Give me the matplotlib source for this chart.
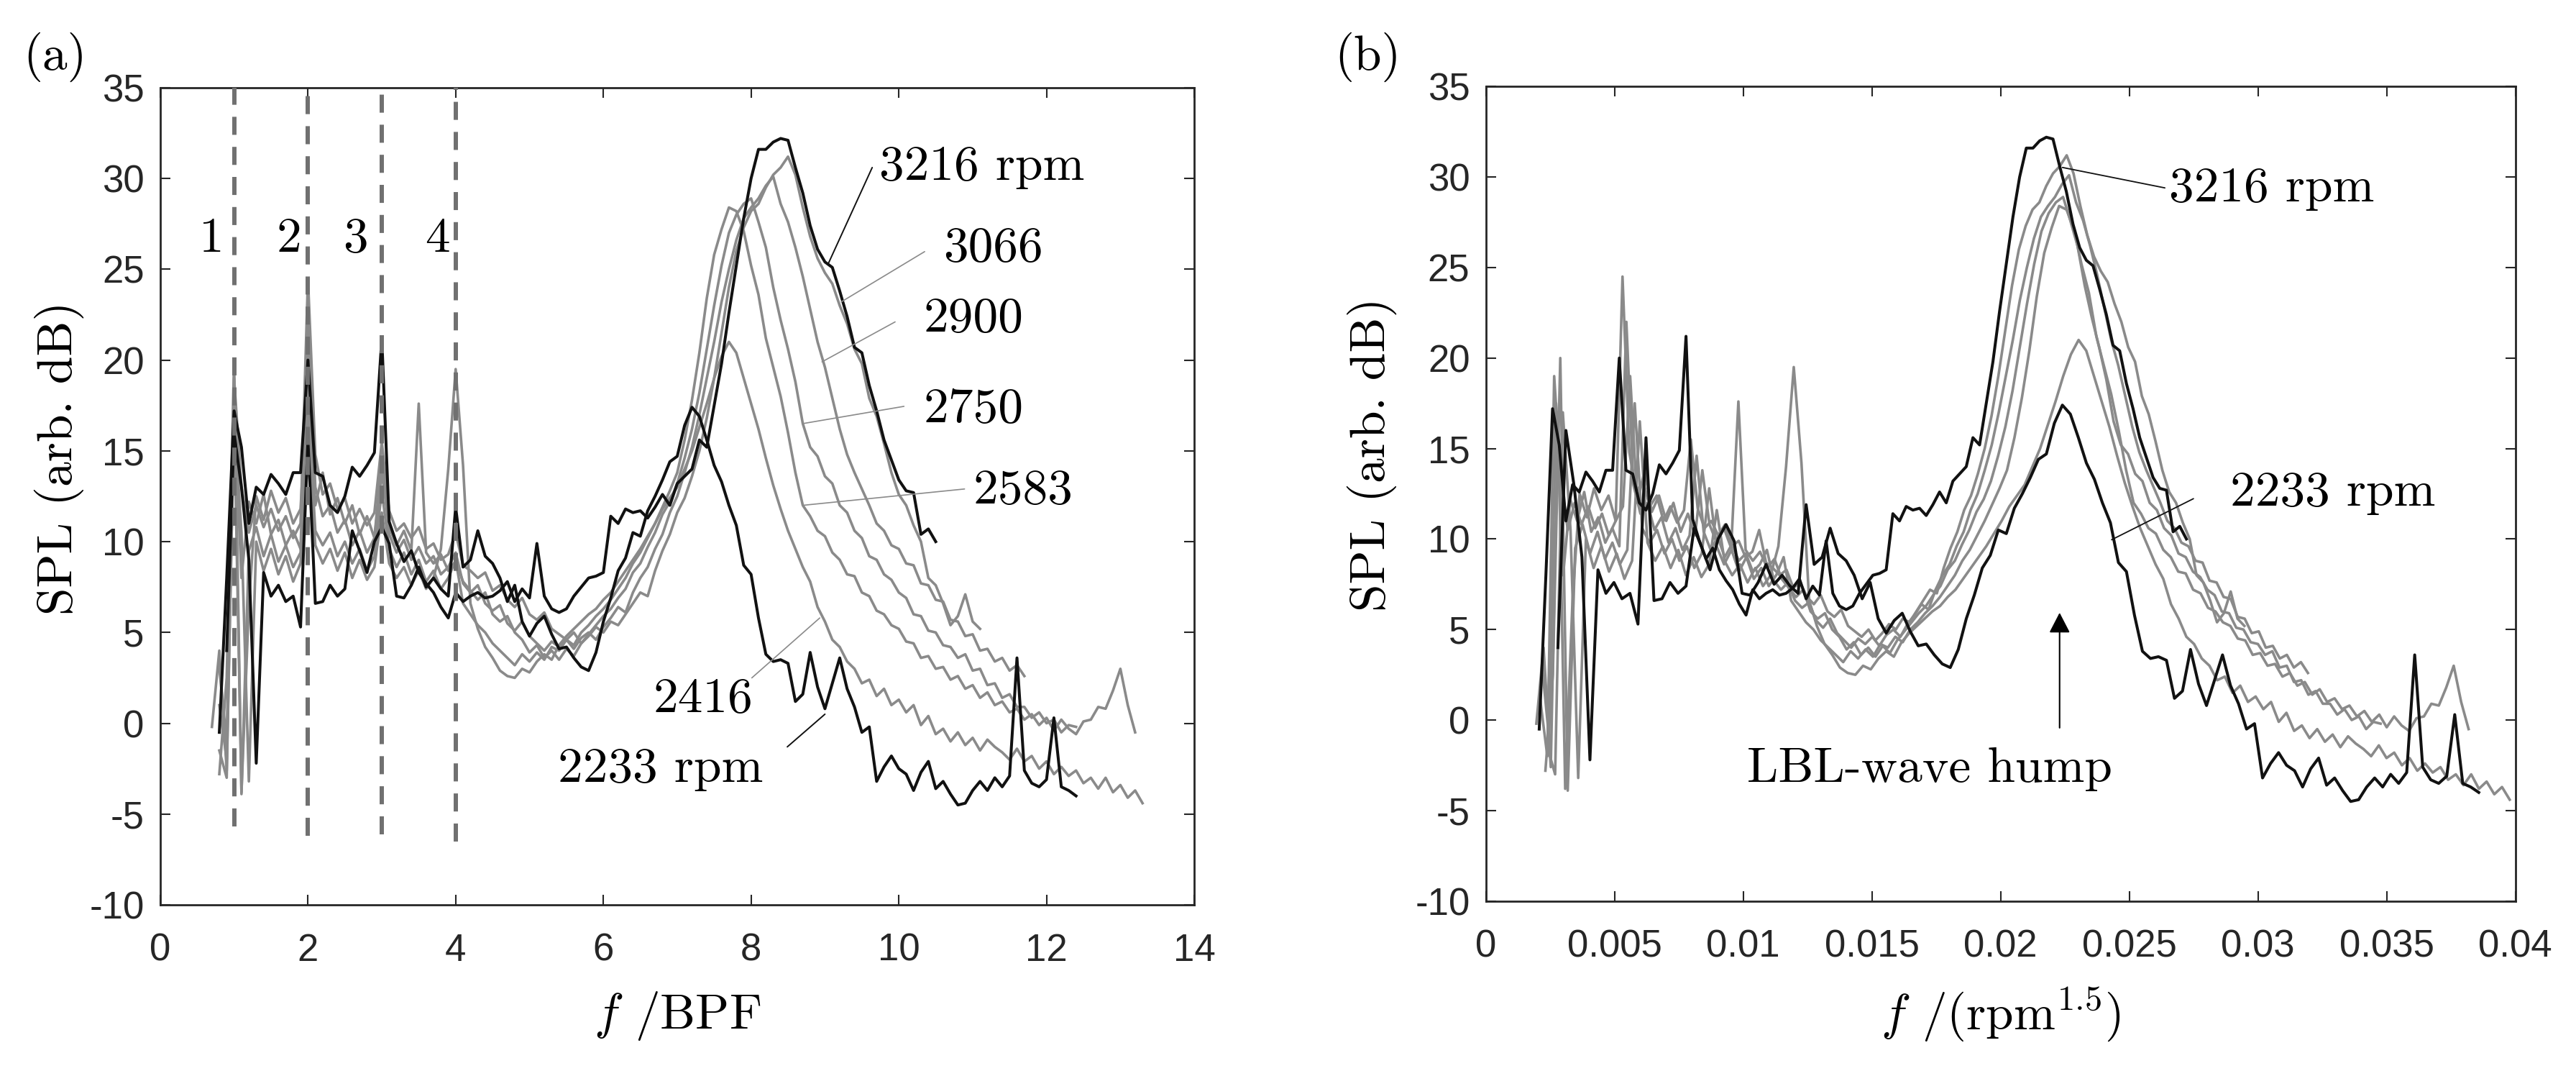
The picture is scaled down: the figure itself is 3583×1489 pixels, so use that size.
import numpy as np
import matplotlib
matplotlib.use("Agg")
import matplotlib.pyplot as plt

plt.rcParams['font.family'] = 'Liberation Sans'
plt.rcParams['mathtext.fontset'] = 'cm'
plt.rcParams['axes.unicode_minus'] = False

# rotor speeds, spectra; each spectrum sits on bins 0.1 BPF apart
rpm = [3216, 3066, 2900, 2750, 2583, 2416, 2233]
first_bin = [0.8, 0.8, 0.8, 0.7, 0.8, 0.8, 0.9]

spl_3216 = [-0.5, 8.0, 17.2, 15.2, 11.0, 13.0, 12.6, 13.7, 13.2, 12.6,
            13.8, 13.8, 20.0, 13.8, 13.6, 12.0, 11.6, 12.5, 14.1, 13.6,
            14.2, 14.9, 21.2, 11.1, 9.9, 8.9, 9.5, 8.3, 7.7, 7.2,
            6.4, 5.8, 7.2, 6.7, 7.0, 7.2, 6.9, 7.0, 7.3, 7.8,
            6.7, 7.4, 6.9, 9.9, 7.0, 6.3, 6.1, 6.3, 7.0, 7.5,
            8.0, 8.1, 8.3, 11.4, 11.0, 11.8, 11.6, 11.7, 11.3, 11.9,
            12.6, 12.0, 13.2, 13.6, 14.0, 15.6, 15.2, 17.5, 19.8, 22.6,
            25.2, 27.8, 30.0, 31.6, 31.6, 32.0, 32.2, 32.1, 30.6, 29.2,
            27.4, 26.1, 25.4, 25.1, 23.8, 22.4, 20.7, 20.4, 18.6, 17.2,
            15.6, 14.5, 13.4, 12.8, 12.7, 10.4, 10.7, 10.0]

spl_3066 = [1.0, -2.0, 19.0, 13.0, 10.5, 12.0, 10.8, 11.8, 10.6, 11.4,
            10.2, 11.0, 24.5, 14.8, 12.6, 13.2, 11.8, 12.4, 11.0, 11.8,
            10.9, 11.6, 15.5, 11.7, 10.6, 11.0, 10.2, 10.8, 9.6, 9.9,
            9.0, 9.3, 10.5, 8.7, 8.4, 8.0, 8.3, 7.3, 7.6, 6.8,
            6.4, 6.9, 6.0, 5.7, 6.1, 5.2, 4.9, 4.6, 5.0, 4.4,
            4.8, 5.3, 5.0, 5.6, 5.4, 6.0, 6.6, 7.2, 7.0, 8.4,
            9.5, 10.4, 11.6, 12.4, 13.6, 15.0, 16.8, 19.0, 21.5, 24.0,
            26.0, 27.3, 28.2, 28.6, 29.5, 30.2, 30.6, 31.2, 30.2, 28.4,
            26.8, 25.6, 24.8, 24.2, 23.0, 22.0, 20.6, 19.8, 17.9, 16.9,
            15.4, 13.8, 12.6, 12.0, 10.9, 10.0, 8.0, 7.6, 6.6, 5.4,
            5.9, 7.1, 5.6, 5.2]

spl_2900 = [3.0, -1.0, 17.5, 8.0, 12.2, 11.0, 12.6, 10.4, 11.2, 9.8,
            10.6, 9.6, 22.0, 13.0, 11.4, 12.0, 10.5, 11.2, 9.8, 10.6,
            9.4, 10.2, 14.6, 10.4, 9.4, 10.1, 9.0, 9.7, 8.8, 9.2,
            8.2, 8.6, 9.4, 7.7, 7.2, 7.6, 6.6, 6.2, 6.5, 5.5,
            5.1, 5.6, 4.8, 4.4, 4.0, 4.5, 4.2, 4.6, 4.1, 4.7,
            5.0, 4.6, 5.3, 5.8, 6.4, 6.1, 7.2, 8.0, 8.6, 9.6,
            10.4, 11.6, 12.5, 13.8, 15.2, 17.0, 19.0, 21.0, 23.2, 25.0,
            26.6, 27.8, 28.4, 28.9, 29.6, 30.1, 28.6, 27.6, 26.2, 24.6,
            22.8, 21.0, 19.6, 17.9, 16.2, 14.8, 13.8, 12.9, 12.0, 11.0,
            10.6, 9.8, 9.6, 8.8, 8.7, 7.7, 7.6, 6.8, 6.7, 5.7,
            5.6, 4.8, 4.9, 4.0, 4.1, 3.4, 3.6, 2.9, 3.2, 2.6]

spl_2750 = [-0.2, 4.0, -2.6, 17.0, -3.8, 6.5, 12.5, 11.2, 12.8, 11.6,
            12.4, 11.0, 11.8, 19.0, 12.0, 13.8, 11.5, 12.4, 11.0, 12.0,
            10.4, 11.4, 10.2, 13.8, 10.8, 9.8, 10.6, 9.5, 17.6, 9.4,
            8.8, 9.3, 8.4, 8.9, 7.8, 7.3, 6.8, 7.2, 6.0, 5.6,
            5.9, 5.0, 4.6, 3.9, 4.3, 3.6, 4.0, 3.5, 4.1, 3.7,
            4.4, 4.9, 5.4, 5.9, 6.3, 6.9, 7.4, 8.3, 8.8, 9.7,
            10.5, 11.5, 12.2, 13.2, 14.6, 16.2, 18.2, 20.6, 23.0, 25.2,
            27.0, 28.0, 28.6, 28.9, 27.6, 26.2, 24.0, 22.2, 20.6, 18.8,
            16.5, 15.2, 14.7, 13.6, 13.2, 12.0, 11.6, 10.6, 10.2, 9.2,
            9.0, 8.2, 7.9, 7.2, 6.9, 6.0, 5.9, 5.1, 5.0, 4.3,
            4.2, 3.6, 3.8, 2.9, 3.0, 2.1, 2.2, 1.4, 1.6, 0.9,
            0.9, 0.3, 0.6, 0.0, 0.2, -0.5, -0.1, -0.2]

spl_2583 = [-2.8, 2.5, 20.0, -3.9, 9.5, 10.8, 9.2, 10.4, 8.9, 9.8,
            8.6, 9.4, 17.5, 10.6, 9.8, 10.5, 9.2, 10.0, 8.8, 9.6,
            8.4, 9.2, 12.8, 9.6, 8.6, 9.4, 8.2, 9.0, 7.8, 8.4,
            7.4, 8.0, 9.0, 6.6, 6.0, 5.4, 5.0, 4.4, 4.0, 3.6,
            3.2, 3.8, 3.4, 3.9, 3.5, 4.2, 4.0, 4.6, 4.3, 5.0,
            5.4, 5.9, 6.3, 6.8, 7.4, 8.0, 8.8, 9.4, 10.2, 11.0,
            11.9, 12.8, 13.8, 15.6, 17.8, 20.4, 23.4, 25.8, 27.2, 28.4,
            28.2, 27.1, 25.2, 23.6, 21.2, 19.6, 18.0, 16.0, 13.8, 12.0,
            11.4, 10.6, 10.3, 9.4, 9.0, 8.2, 8.1, 7.2, 7.0, 6.2,
            6.0, 5.4, 5.2, 4.5, 4.4, 3.6, 3.7, 3.0, 3.1, 2.4,
            2.6, 1.9, 2.1, 1.4, 1.7, 1.0, 1.2, 0.6, 0.8, 0.2,
            0.5, -0.1, 0.3, -0.4, 0.2, -0.3, -0.6, 0.1, 0.2, 0.9,
            0.8, 1.8, 3.0, 1.0, -0.5]

spl_2416 = [-1.5, -3.0, 17.0, 10.5, -3.2, 10.0, 8.4, 9.6, 8.2, 9.2,
            7.8, 8.8, 16.5, 9.8, 8.8, 9.6, 8.4, 9.4, 8.0, 9.0,
            7.9, 8.6, 11.6, 8.8, 8.0, 8.6, 7.6, 8.4, 7.4, 8.0,
            9.6, 14.0, 19.5, 14.2, 6.6, 5.2, 4.2, 3.6, 2.9, 2.6,
            2.5, 3.0, 2.8, 3.4, 3.8, 3.5, 4.3, 4.8, 5.2, 5.6,
            6.0, 6.3, 6.8, 7.2, 7.8, 8.4, 9.0, 9.6, 10.3, 11.0,
            11.8, 12.4, 13.0, 14.0, 15.0, 16.3, 17.6, 19.0, 20.2, 21.0,
            20.4, 19.0, 17.6, 16.2, 14.6, 13.1, 11.8, 10.6, 9.6, 8.6,
            7.8, 6.4, 5.6, 4.6, 4.2, 3.4, 3.0, 2.2, 2.4, 1.5,
            1.9, 1.0, 1.3, 0.6, 1.0, -0.1, 0.4, -0.6, -0.3, -1.0,
            -0.5, -1.2, -0.8, -1.5, -0.9, -1.3, -1.6, -2.0, -1.4, -2.1,
            -1.8, -2.5, -2.1, -2.8, -2.4, -2.9, -2.6, -3.3, -3.0, -3.6,
            -3.0, -3.8, -3.4, -4.1, -3.7, -4.4]

spl_2233 = [4.0, 16.0, 13.0, 9.0, -2.2, 8.3, 7.0, 7.6, 6.7, 7.0,
            5.3, 15.6, 6.6, 6.7, 7.6, 7.0, 7.4, 10.6, 9.5, 8.3,
            10.0, 10.8, 9.9, 7.0, 6.9, 7.6, 8.6, 7.5, 8.0, 7.4,
            7.0, 11.9, 8.6, 9.0, 10.6, 9.2, 8.8, 8.0, 6.7, 7.6,
            5.6, 4.8, 5.5, 5.9, 4.9, 4.1, 4.2, 3.6, 3.1, 2.9,
            3.9, 5.6, 6.9, 8.4, 9.1, 10.5, 10.3, 11.7, 12.5, 13.4,
            14.4, 14.7, 16.4, 17.4, 16.9, 15.6, 14.2, 13.3, 12.0, 10.9,
            8.7, 8.2, 5.8, 3.8, 3.4, 3.5, 3.3, 1.2, 1.6, 3.9,
            2.0, 0.8, 2.2, 3.6, 1.9, 0.9, -0.5, -0.2, -3.2, -2.4,
            -1.8, -2.5, -2.8, -3.7, -2.7, -2.1, -3.6, -3.2, -3.9, -4.5,
            -4.4, -3.7, -3.2, -3.7, -3.0, -3.5, -2.9, 3.6, -2.6, -3.3,
            -3.5, -3.1, 0.3, -3.5, -3.7, -4.0]

spectra = [spl_3216, spl_3066, spl_2900, spl_2750, spl_2583, spl_2416, spl_2233]

# f/BPF -> f/rpm^1.5 : x_b = x_a * coef / sqrt(rpm), coef matched from the peaks in (a) and (b)
bpf_coef = 0.147

harmonics = [1, 2, 3, 4]
harmonic_bottom = [-5.7, -6.2, -6.1, -6.5]

BLACK = '#111111'
GREY = '#8a8a8a'
SERIF = 'cmr10'
FS = 50

fig = plt.figure(figsize=(35.83, 14.89), dpi=100)
ax1 = fig.add_axes([0.0622, 0.1551, 0.4014, 0.7631])
ax2 = fig.add_axes([0.5768, 0.1587, 0.3997, 0.7605])

# greys first, the two black ones on top
for i in [1, 2, 3, 4, 5, 0, 6]:
    y = spectra[i]
    xa = first_bin[i] + 0.1 * np.arange(len(y))
    xb = xa * bpf_coef / np.sqrt(rpm[i])
    black = rpm[i] in (3216, 2233)
    col = BLACK if black else GREY
    lw = 2.9 if black else 2.6
    ax1.plot(xa, y, color=col, lw=lw, zorder=3 if black else 2)
    ax2.plot(xb, y, color=col, lw=lw, zorder=3 if black else 2)

# BPF harmonics
for h, yb in zip(harmonics, harmonic_bottom):
    ax1.plot([h, h], [yb, 35], color='#707070', lw=4.3,
             linestyle=(0, (4.2, 2.8)), zorder=5, clip_on=False)
for lab, xp in zip(['1', '2', '3', '4'], [0.70, 1.74, 2.64, 3.75]):
    ax1.text(xp, 25.96, lab, fontfamily=SERIF, fontsize=FS, ha='center', va='baseline')

for ax in (ax1, ax2):
    ax.set_ylim(-10, 35)
    ax.set_yticks(np.arange(-10, 36, 5))
    ax.tick_params(direction='in', top=True, right=True, length=10, width=1.5,
                   color='#262626', labelcolor='#262626', labelsize=38)
    ax.tick_params(axis='x', pad=28)
    ax.tick_params(axis='y', pad=16)
    for s in ax.spines.values():
        s.set_linewidth(2.0)
        s.set_color('#262626')

ax1.set_xlim(0, 14)
ax1.set_xticks(np.arange(0, 15, 2))
ax2.set_xlim(0, 0.04)
ax2.set_xticks(np.arange(0, 0.0401, 0.005))
ax2.set_xticklabels(['0', '0.005', '0.01', '0.015', '0.02', '0.025', '0.03', '0.035', '0.04'])

ax1.set_xlabel(r'$f$ /BPF', fontfamily=SERIF, fontsize=FS, va='baseline')
ax1.xaxis.set_label_coords(0.5, -0.1514)
ax2.set_xlabel(r'$f$ /(rpm$^{1.5}$)', fontfamily=SERIF, fontsize=FS, va='baseline')
ax2.xaxis.set_label_coords(0.5, -0.1566)
ax1.set_ylabel('SPL (arb. dB)', fontfamily=SERIF, fontsize=FS, va='center')
ax1.yaxis.set_label_coords(-0.0975, 0.547)
ax2.set_ylabel('SPL (arb. dB)', fontfamily=SERIF, fontsize=FS, va='center')
ax2.yaxis.set_label_coords(-0.1103, 0.5486)

fig.text(0.0214, 0.947, '(a)', fontfamily=SERIF, fontsize=FS, ha='center', va='center')
fig.text(0.5310, 0.947, '(b)', fontfamily=SERIF, fontsize=FS, ha='center', va='center')


def leader(ax, start, end, col, lw=1.3):
    ax.annotate('', xy=end, xytext=start,
                arrowprops=dict(arrowstyle='-', color=col, lw=lw, shrinkA=0, shrinkB=0))


# panel (a) speed labels: text, text anchor, leader start, leader end
labels_a = ['3216 rpm', '3066', '2900', '2750', '2583', '2416', '2233 rpm']
text_a = [(9.74, 29.92), (10.60, 25.43), (10.33, 21.56), (10.33, 16.56),
          (11.01, 12.1), (6.67, 0.62), (5.38, -3.23)]
lead_from_a = [(9.64, 30.6), (10.35, 25.97), (9.95, 22.1), (10.07, 17.45),
               (10.89, 12.9), (8.01, 2.5), (8.49, -1.3)]
lead_to_a = [(9.05, 25.35), (9.22, 23.2), (8.96, 19.9), (8.7, 16.5),
             (8.7, 12.0), (8.93, 5.8), (9.0, 0.5)]
for k, lab in enumerate(labels_a):
    ax1.text(*text_a[k], lab, fontfamily=SERIF, fontsize=FS, ha='left', va='baseline')
    col = BLACK if lab.endswith('rpm') else GREY
    leader(ax1, lead_from_a[k], lead_to_a[k], col, 1.4 if col == BLACK else 1.2)

# panel (b)
ax2.text(0.02653, 28.65, '3216 rpm', fontfamily=SERIF, fontsize=FS, ha='left', va='baseline')
leader(ax2, (0.02638, 29.4), (0.0224, 30.53), BLACK)
ax2.text(0.02892, 11.85, '2233 rpm', fontfamily=SERIF, fontsize=FS, ha='left', va='baseline')
leader(ax2, (0.02749, 12.23), (0.02431, 9.96), BLACK)
ax2.text(0.01724, -3.42, 'LBL-wave hump', fontfamily=SERIF, fontsize=FS, ha='center', va='baseline')
ax2.annotate('', xy=(0.02229, 5.93), xytext=(0.02229, -0.43),
             arrowprops=dict(arrowstyle='-|>,head_length=0.87,head_width=0.45',
                             mutation_scale=20, color='black', lw=1.5,
                             shrinkA=0, shrinkB=0))

fig.savefig('out.png', dpi=100)
